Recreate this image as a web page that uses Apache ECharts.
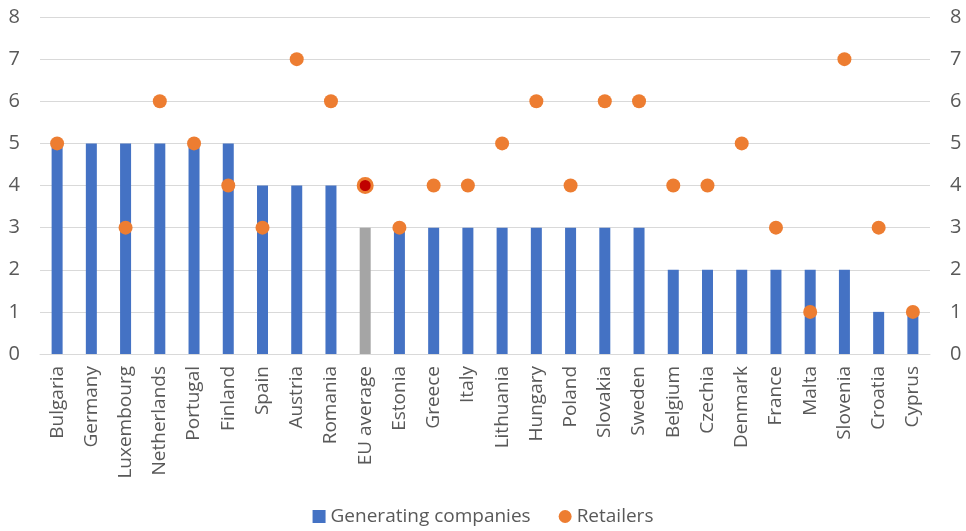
<!DOCTYPE html>
<html>
<head>
<meta charset="utf-8">
<script src="https://cdn.jsdelivr.net/npm/echarts@6/dist/echarts.min.js"></script>
<style>
  html, body { margin: 0; padding: 0; background: #fff; }
  #chart { width: 966px; height: 531px; }
</style>
</head>
<body>
<div id="chart"></div>
<script>
// categories and values
var countries = ['Bulgaria', 'Germany', 'Luxembourg', 'Netherlands', 'Portugal', 'Finland', 'Spain', 'Austria',
    'Romania', 'EU average', 'Estonia', 'Greece', 'Italy', 'Lithuania', 'Hungary', 'Poland', 'Slovakia',
    'Sweden', 'Belgium', 'Czechia', 'Denmark', 'France', 'Malta', 'Slovenia', 'Croatia', 'Cyprus'];
var generating = [5, 5, 5, 5, 5, 5, 4, 4, 4, 3, 3, 3, 3, 3, 3, 3, 3, 3, 2, 2, 2, 2, 2, 2, 1, 1];
var retailers = [5, null, 3, 6, 5, 4, 3, 7, 6, 4, 3, 4, 4, 5, 6, 4, 6, 6, 4, 4, 5, 3, 1, 7, 3, 1];
var yTicks = [0, 1, 2, 3, 4, 5, 6, 7, 8];

var avgName = 'EU average';
var textColor = '#595959';
var fontFam = '"Open Sans", "Liberation Sans", sans-serif';

var chart = echarts.init(document.getElementById('chart'));

var barData = generating.map(function (v, i) {
    if (countries[i] === avgName) {
        return {value: v, itemStyle: {color: '#a5a5a5'}};
    }
    return v;
});
var dotData = retailers.map(function (v, i) {
    if (countries[i] === avgName) {
        return {value: v, itemStyle: {color: '#c00000', borderColor: '#ed7d31', borderWidth: 3}};
    }
    return v;
});

var yAxisBase = {
    type: 'value',
    min: yTicks[0],
    max: yTicks[yTicks.length - 1],
    interval: 1,
    axisLine: {show: false},
    axisTick: {show: false},
    axisLabel: {color: textColor, fontSize: 20, fontFamily: fontFam, margin: 20}
};

chart.setOption({
    animation: false,
    grid: {left: 40, right: 36, top: 17, bottom: 177},
    legend: {
        bottom: 0,
        left: 'center',
        itemGap: 28,
        itemWidth: 13,
        itemHeight: 13,
        textStyle: {color: textColor, fontSize: 19, fontFamily: fontFam},
        data: [
            {name: 'Generating companies', icon: 'rect'},
            {name: 'Retailers', icon: 'circle'}
        ]
    },
    xAxis: {
        type: 'category',
        data: countries,
        axisLine: {lineStyle: {color: '#d9d9d9'}},
        axisTick: {show: false},
        axisLabel: {
            rotate: 90,
            interval: 0,
            color: textColor,
            fontSize: 19,
            fontFamily: fontFam,
            margin: 12
        }
    },
    yAxis: [
        Object.assign({}, yAxisBase, {
            position: 'left',
            splitLine: {lineStyle: {color: '#d9d9d9', width: 1}}
        }),
        Object.assign({}, yAxisBase, {
            position: 'right',
            splitLine: {show: false}
        })
    ],
    series: [
        {
            name: 'Generating companies',
            type: 'bar',
            data: barData,
            barWidth: 11,
            itemStyle: {color: '#4472c4'}
        },
        {
            name: 'Retailers',
            type: 'scatter',
            data: dotData,
            symbolSize: 14,
            itemStyle: {color: '#ed7d31', opacity: 1},
            z: 3
        }
    ]
});
</script>
</body>
</html>
